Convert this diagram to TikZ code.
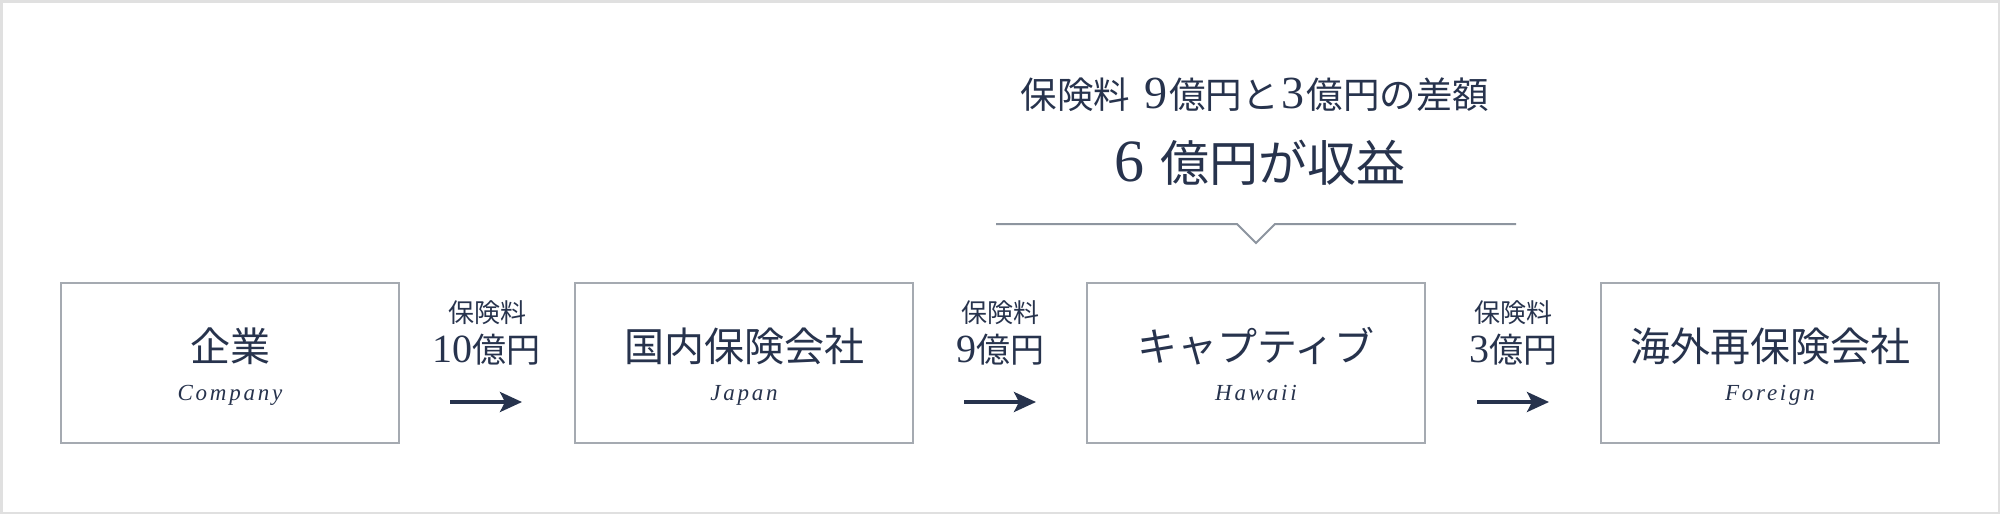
\documentclass[tikz,border=0pt]{standalone}
\usepackage{fontspec}
\newfontfamily\jp{Noto Sans CJK JP}
\newfontfamily\sr{Liberation Serif}
\newfontfamily\enf[LetterSpace=12]{Liberation Serif}
\usetikzlibrary{arrows.meta}
\definecolor{navy}{HTML}{27334D}
\definecolor{boxgray}{HTML}{A5AAB1}
\definecolor{vgray}{HTML}{8D959F}
\definecolor{outergray}{HTML}{E0E0E0}
\newcommand{\dg}[2]{{\sr\fontsize{#1}{#1}\selectfont #2}}
\begin{document}
\begin{tikzpicture}[x=1pt,y=-1pt,
  box/.style={draw=boxgray, line width=2pt, minimum width=338pt, minimum height=160pt, inner sep=0pt},
  maintxt/.style={text=navy, font=\jp\fontsize{40}{48}\selectfont, inner sep=0pt, anchor=base},
  entxt/.style={text=navy, font=\enf\itshape\fontsize{23}{26}\selectfont, inner sep=0pt, anchor=base},
  lbl/.style={text=navy, font=\jp\fontsize{26}{30}\selectfont, inner sep=0pt, anchor=base},
  amt/.style={text=navy, font=\jp\fontsize{34}{38}\selectfont, inner sep=0pt, anchor=base},
  head/.style={text=navy, font=\jp\fontsize{36.5}{40}\selectfont, inner sep=0pt, anchor=base},
  headbig/.style={text=navy, font=\jp\fontsize{49}{52}\selectfont, inner sep=0pt, anchor=base},
  arr/.style={draw=navy, line width=3.5pt, -{Stealth[length=22pt,width=20pt,inset=5pt]}},
  vline/.style={draw=vgray, line width=2pt},
  outer/.style={draw=outergray, line width=2.5pt},
]
\useasboundingbox (0,0) rectangle (2000,514);
\fill[white] (0,0) rectangle (2000,514);
\draw[outer] (1.25,1.25) rectangle (1998.75,512.75);

% boxes
\node[box] (b1) at (230,363) {};
\node[box] (b2) at (744,363) {};
\node[box] (b3) at (1256,363) {};
\node[box] (b4) at (1770,363) {};

% box texts
\node[maintxt] (m1) at (230,361) {企業};
\node[entxt] (e1) at (230,400) {Company};
\node[maintxt] (m2) at (744,361) {国内保険会社};
\node[entxt] (e2) at (744,400) {Japan};
\node[maintxt] (m3) at (1256,361) {キャプティブ};
\node[entxt] (e3) at (1256,400) {Hawaii};
\node[maintxt] (m4) at (1770,361) {海外再保険会社};
\node[entxt] (e4) at (1770,400) {Foreign};

% labels between boxes
\node[lbl] (l1) at (487,322) {保険料};
\node[amt] (p1) at (486,362) {\dg{40}{10}億円};
\node[lbl] (l2) at (1000,322) {保険料};
\node[amt] (p2) at (1000,362) {\dg{40}{9}億円};
\node[lbl] (l3) at (1513,322) {保険料};
\node[amt] (p3) at (1513,362) {\dg{40}{3}億円};

% arrows
\coordinate (a1s) at (450,402); \coordinate (a1e) at (522,402);
\coordinate (a2s) at (964,402); \coordinate (a2e) at (1036,402);
\coordinate (a3s) at (1477,402); \coordinate (a3e) at (1549,402);
\draw[arr] (a1s) -- (a1e);
\draw[arr] (a2s) -- (a2e);
\draw[arr] (a3s) -- (a3e);

% heading
\node[head] (h1) at (1255,108) {保険料\hspace{14pt}\dg{46}{9}\hspace{2pt}億円と\hspace{3pt}\dg{46}{3}\hspace{2pt}億円の差額};
\node[headbig] (h2) at (1260,181) {\dg{60}{6}\hspace{16pt}億円が収益};

% bracket with V
\coordinate (vl) at (996,224);
\coordinate (vla) at (1237,224);
\coordinate (vtip) at (1256,243);
\coordinate (vra) at (1275,224);
\coordinate (vr) at (1516,224);
\draw[vline] (vl) -- (vla) -- (vtip) -- (vra) -- (vr);
\end{tikzpicture}
\end{document}
